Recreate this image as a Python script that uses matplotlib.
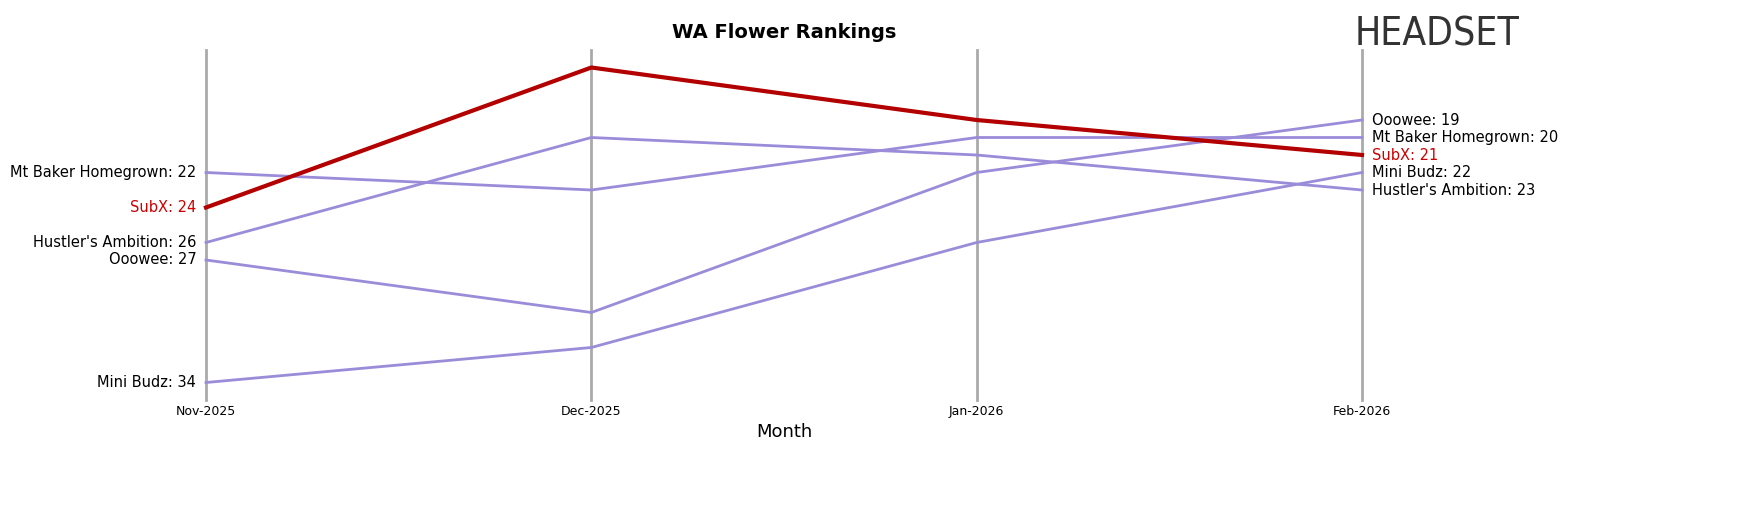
import matplotlib
matplotlib.use("Agg")
import matplotlib.pyplot as plt

months = ["Nov-2025", "Dec-2025", "Jan-2026", "Feb-2026"]
brands = ["Mt Baker Homegrown", "Hustler's Ambition", "Ooowee", "Mini Budz", "SubX"]
ranks = {
    "Mt Baker Homegrown": [22, 23, 20, 20],
    "Hustler's Ambition": [26, 20, 21, 23],
    "Ooowee": [27, 30, 22, 19],
    "Mini Budz": [34, 32, 26, 22],
    "SubX": [24, 16, 19, 21],
}
highlight = "SubX"

fig = plt.figure(figsize=(17.62, 5.07), dpi=100)
ax = fig.add_axes([206/1762, 107/507, (1362-206)/1762, 350/507])
x = list(range(len(months)))
for xi in x:
    ax.axvline(xi, color="#aaaaaa", lw=2, zorder=0, clip_on=False)
for b in brands:
    hl = b == highlight
    ax.plot(x, ranks[b], color="#b30000" if hl else "#9b8cd9", lw=3 if hl else 2,
            zorder=3 if hl else 2, clip_on=False)
    c = "#cc0000" if hl else "black"
    ax.text(-0.025, ranks[b][0], f"{b}: {ranks[b][0]}", ha="right", va="center", fontsize=10.5, color=c)
    ax.text(3.025, ranks[b][-1], f"{b}: {ranks[b][-1]}", ha="left", va="center", fontsize=10.5, color=c)
ax.set_xlim(0, 3)
ax.set_ylim(35, 15)
ax.set_yticks([])
ax.set_xticks(x)
ax.set_xticklabels(months, fontsize=9)
ax.tick_params(axis="x", length=0)
for s in ax.spines.values():
    s.set_visible(False)
ax.set_xlabel("Month", fontsize=13)
fig.text(784/1762, 1-33/507, "WA Flower Rankings", ha="center", va="center", fontsize=14, fontweight="bold")
fig.text(1355/1762, 1-35/507, "HEADSET", ha="left", va="center", fontsize=28, color="#333333", fontstretch="condensed")
fig.savefig("out.png", dpi=100)
